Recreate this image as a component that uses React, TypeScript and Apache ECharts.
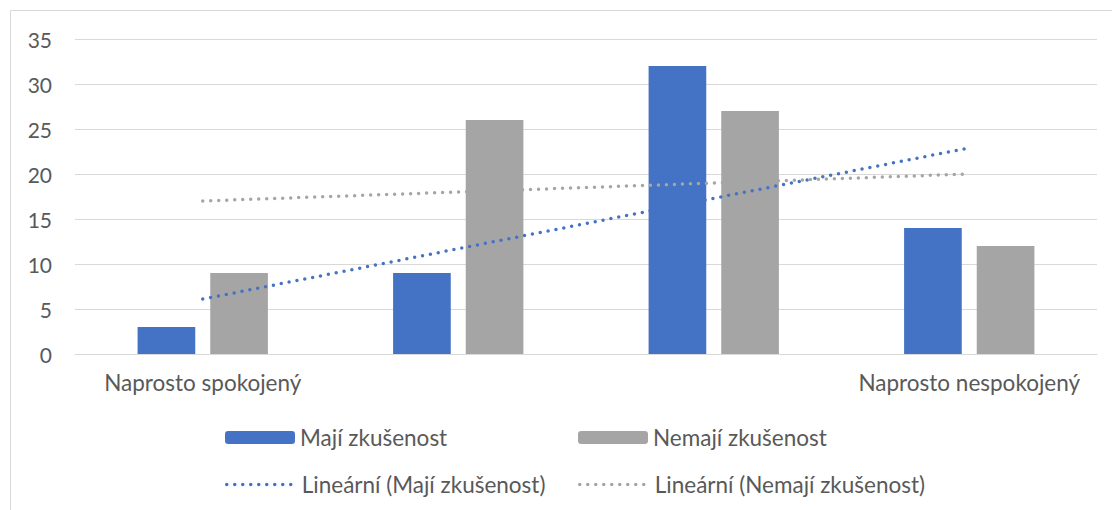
import React, { useEffect, useRef } from "react";
import * as echarts from "echarts";

const categories = ["Naprosto spokojený", "", "", "Naprosto nespokojený"];
const majiValues = [3, 9, 32, 14];
const nemajiValues = [9, 26, 27, 12];
const seriesNames = ["Mají zkušenost", "Nemají zkušenost", "Lineární (Mají zkušenost)", "Lineární (Nemají zkušenost)"];

function linearTrend(values: number[]): number[] {
  const n = values.length;
  const xs = values.map((_, i) => i + 1);
  const mx = xs.reduce((a, b) => a + b, 0) / n;
  const my = values.reduce((a, b) => a + b, 0) / n;
  let sxy = 0;
  let sxx = 0;
  for (let i = 0; i < n; i++) {
    sxy += (xs[i] - mx) * (values[i] - my);
    sxx += (xs[i] - mx) * (xs[i] - mx);
  }
  const slope = sxy / sxx;
  return xs.map((x) => +(my + slope * (x - mx)).toFixed(3));
}

const BLUE = "#4472C4";
const GRAY = "#A5A5A5";
const TEXT = "#595959";
const FONT = "Lato";

export default function App() {
  const ref = useRef<HTMLDivElement>(null);
  useEffect(() => {
    if (!ref.current) return;
    const chart = echarts.init(ref.current, null, { renderer: "svg" });
    const legendBase = {
      orient: "horizontal" as const,
      padding: 0,
      itemGap: 0,
      itemWidth: 70,
      itemHeight: 13,
      textStyle: { color: TEXT, fontSize: 22.5, fontFamily: FONT },
    };
    const lineLegend = {
      ...legendBase,
      itemStyle: { opacity: 0, color: "transparent", borderWidth: 0 },
      lineStyle: { width: 3.5, type: [0, 8], cap: "round", opacity: 1 },
    };
    chart.setOption({
      animation: false,
      backgroundColor: "#ffffff",
      textStyle: { fontFamily: FONT },
      grid: { left: 75, right: 15, top: 39, bottom: 156, containLabel: false },
      graphic: [
        {
          type: "rect",
          shape: { x: 10.5, y: 10.5, width: 1120, height: 520 },
          style: { fill: "none", stroke: "#d9d9d9", lineWidth: 1 },
          silent: true,
        },
      ],
      legend: [
        { ...legendBase, data: [seriesNames[0]], left: 225, top: 426 },
        { ...legendBase, data: [seriesNames[1]], left: 578, top: 426 },
        { ...lineLegend, data: [seriesNames[2]], left: 225, top: 473 },
        { ...lineLegend, data: [seriesNames[3]], left: 578, top: 473 },
      ],
      xAxis: {
        type: "category",
        data: categories,
        axisTick: { show: false },
        axisLine: { show: true, lineStyle: { color: "#d9d9d9", width: 1 } },
        axisLabel: { color: TEXT, fontSize: 22.5, fontFamily: FONT, margin: 17, interval: 0 },
      },
      yAxis: {
        type: "value",
        min: 0,
        max: 35,
        interval: 5,
        axisLine: { show: false },
        axisTick: { show: false },
        splitLine: { lineStyle: { color: "#d9d9d9", width: 1 } },
        axisLabel: { color: TEXT, fontSize: 21, fontFamily: FONT, margin: 23 },
      },
      series: [
        {
          name: seriesNames[0],
          type: "bar",
          data: majiValues,
          itemStyle: { color: BLUE },
          barGap: "26%",
          barCategoryGap: "49%",
        },
        {
          name: seriesNames[1],
          type: "bar",
          data: nemajiValues,
          itemStyle: { color: GRAY },
        },
        {
          name: seriesNames[2],
          type: "line",
          data: linearTrend(majiValues),
          symbol: "none",
          z: 5,
          itemStyle: { color: BLUE },
          lineStyle: { color: BLUE, width: 3.5, type: [0, 8], cap: "round" },
        },
        {
          name: seriesNames[3],
          type: "line",
          data: linearTrend(nemajiValues),
          symbol: "none",
          z: 5,
          itemStyle: { color: GRAY },
          lineStyle: { color: GRAY, width: 3.5, type: [0, 8], cap: "round" },
        },
      ],
    });
    return () => chart.dispose();
  }, []);
  return (
    <div
      ref={ref}
      style={{ position: "absolute", left: 0, top: 0, width: 1112, height: 510 }}
    />
  );
}
